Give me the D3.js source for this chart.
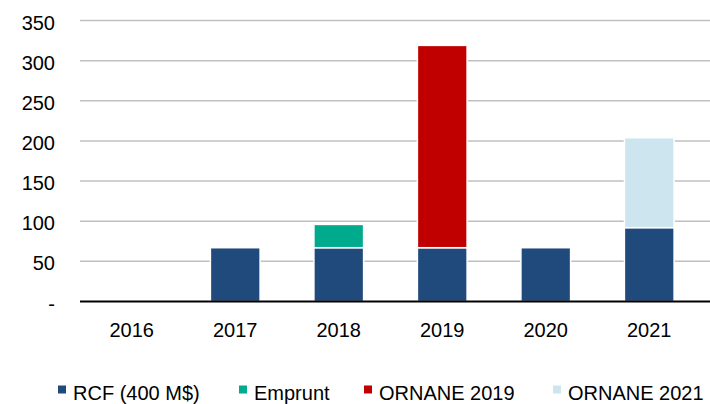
<!DOCTYPE html>
<html>
<head>
<meta charset="utf-8">
<script src="https://cdn.jsdelivr.net/npm/d3@7"></script>
<style>
html,body{margin:0;padding:0;background:#fff;}
svg{display:block;font-family:"Liberation Sans",Arial,sans-serif;}
</style>
</head>
<body>
<svg id="chart" width="710" height="404"></svg>
<script>
const years = ["2016","2017","2018","2019","2020","2021"];
const seriesNames = ["RCF (400 M$)","Emprunt","ORNANE 2019","ORNANE 2021"];
const rcf = [0, 67, 67, 67, 67, 92];
const emprunt = [0, 0, 29, 0, 0, 0];
const ornane2019 = [0, 0, 0, 252, 0, 0];
const ornane2021 = [0, 0, 0, 0, 0, 112];
const colors = ["#204A7C","#00AA8D","#C00000","#CDE5EF"];
const yTicks = [0,50,100,150,200,250,300,350];

(function(){
const svg = d3.select("#chart");
const plotLeft = 80, plotRight = 701, plotTop = 20.5, plotBottom = 301.5;

const x = d3.scaleBand().domain(years).range([plotLeft, plotRight]).paddingInner(0.52).paddingOuter(0.26);
const y = d3.scaleLinear().domain([0,350]).range([plotBottom, plotTop]);

const rows = years.map((yr,i)=>({year:yr, s0:rcf[i], s1:emprunt[i], s2:ornane2019[i], s3:ornane2021[i]}));
const stack = d3.stack().keys(["s0","s1","s2","s3"])(rows);

// gridlines
svg.append("g").selectAll("line").data(yTicks.filter(d=>d>0)).join("line")
  .attr("x1", plotLeft).attr("x2", 710)
  .attr("y1", d=>y(d)).attr("y2", d=>y(d))
  .attr("stroke", "#C0C0C0").attr("stroke-width", 1.5);

// bars
stack.forEach((layer, li) => {
  svg.append("g").selectAll("rect").data(layer.filter(d=>d[1]-d[0]>0)).join("rect")
    .attr("x", d=>x(d.data.year))
    .attr("width", x.bandwidth())
    .attr("y", d=>y(d[1]))
    .attr("height", d=>y(d[0])-y(d[1]))
    .attr("fill", colors[li])
    .attr("stroke", "#fff").attr("stroke-width", 1.5);
});

// baseline
svg.append("line").attr("x1", plotLeft).attr("x2", 710)
  .attr("y1", y(0)).attr("y2", y(0))
  .attr("stroke", "#000").attr("stroke-width", 2);

// y labels
svg.append("g").selectAll("text").data(yTicks).join("text")
  .attr("x", 55).attr("y", d=>y(d)+2)
  .attr("dominant-baseline","central")
  .attr("text-anchor","end")
  .attr("font-size", 20).attr("fill","#000")
  .text(d=> d===0 ? "-" : d);

// x labels
svg.append("g").selectAll("text").data(years).join("text")
  .attr("x", d=>x(d)+x.bandwidth()/2).attr("y", 336.5)
  .attr("text-anchor","middle")
  .attr("font-size", 20).attr("fill","#000")
  .text(d=>d);

// legend
const legX = [58, 239, 364, 553];
const lg = svg.append("g").selectAll("g").data(seriesNames).join("g")
  .attr("transform", (d,i)=>`translate(${legX[i]},0)`);
lg.append("rect").attr("x",0).attr("y",385.5).attr("width",8).attr("height",8)
  .attr("fill",(d,i)=>colors[i]);
lg.append("text").attr("x",15).attr("y",399.5)
  .attr("font-size",20).attr("fill","#000").text(d=>d);
})();
</script>
</body>
</html>
